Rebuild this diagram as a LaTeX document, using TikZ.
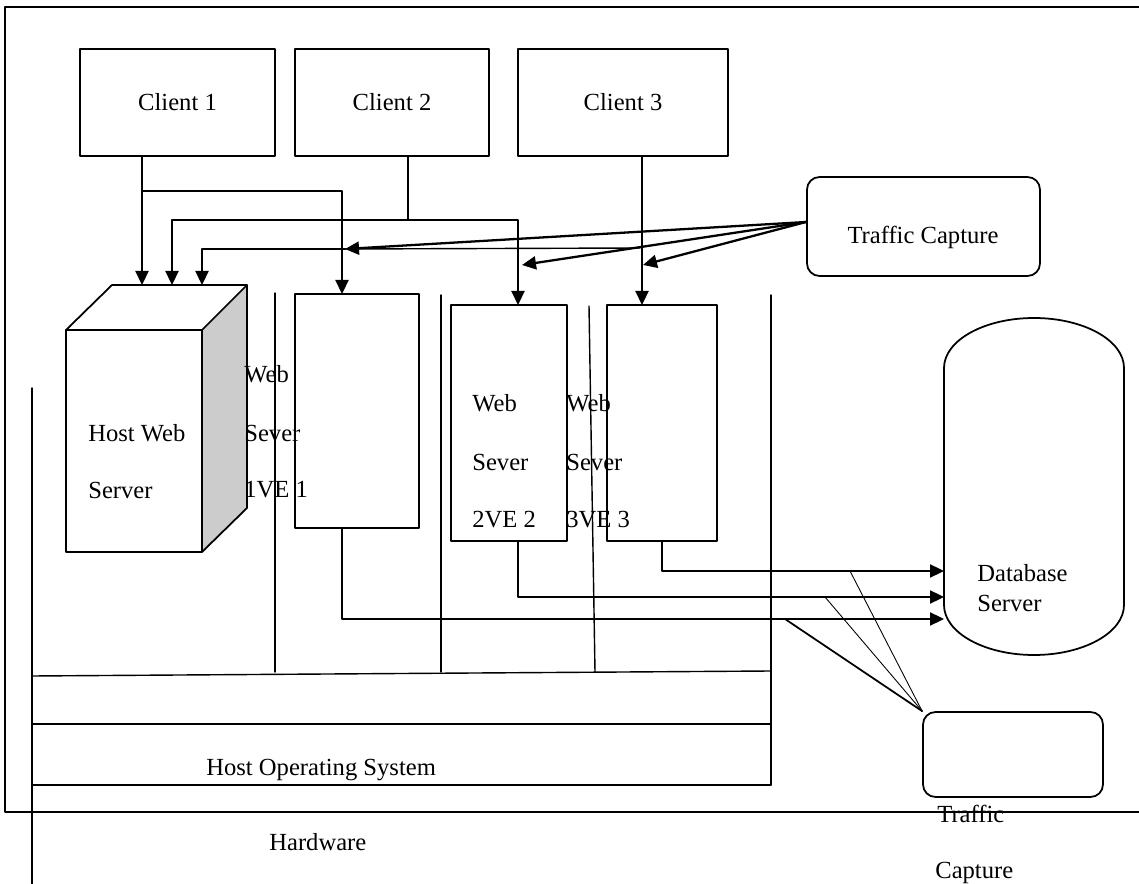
\documentclass[tikz,border=0pt]{standalone}
\usepackage{fontspec}
\setmainfont{Liberation Serif}
\usetikzlibrary{arrows.meta}

\tikzset{
  box/.style={draw, line width=1pt, inner sep=0pt},
  tcbox/.style={box, rounded corners=0.25cm},
  lbl/.style={anchor=base west, inner sep=0pt},
  sep/.style={line width=0.8pt},
  flow/.style={->, line width=1.3pt},
}

\begin{document}
\begin{tikzpicture}[line cap=round,line join=round,>={Triangle[length=0.28cm,width=0.26cm]},x=0.02cm,y=-0.02cm,font=\fontsize{14}{17}\selectfont]
		\useasboundingbox (0,0) rectangle (1139,884);
		\draw[line width=1pt] (1139,7) -- (5,7) -- (5,812) -- (1139,812);
		
		% clients
		\node[box, minimum width=3.9cm, minimum height=2.14cm] (c1) at (177.5,102.5) {Client 1};
		\node[box, minimum width=3.88cm, minimum height=2.14cm] (c2) at (392,102.5) {Client 2};
		\node[box, minimum width=4.2cm, minimum height=2.14cm] (c3) at (623,102.5) {Client 3};
		
		% host web server
		\fill[gray!40] (202,330) -- (247,285) -- (247,508) -- (202,552) -- cycle;
		\draw[line width=1pt] (66,330) rectangle (202,552);
		\draw[line width=1pt] (66,330) -- (112,285) -- (247,285) -- (247,508) -- (202,552);
		\draw[line width=1pt] (202,330) -- (247,285);
		\node[lbl] (hw1) at (88,442) {Host Web};
		\node[lbl] (hw2) at (88,499) {Server};
		
		% virtual environments
		\node[box, minimum width=2.48cm, minimum height=4.68cm] (ve1) at (357,411) {};
		\node[box, minimum width=2.32cm, minimum height=4.72cm] (ve2) at (509,423) {};
		\node[box, minimum width=2.2cm, minimum height=4.72cm] (ve3) at (662,423) {};
		\node[lbl] (ve1a) at (244,383) {Web};
		\node[lbl] (ve1b) at (244,442) {Sever};
		\node[lbl] (ve1c) at (244,498) {1VE 1};
		\node[lbl] (ve2a) at (472,412) {Web};
		\node[lbl] (ve2b) at (472,471) {Sever};
		\node[lbl] (ve2c) at (472,528) {2VE 2};
		\node[lbl] (ve3a) at (566,412) {Web};
		\node[lbl] (ve3b) at (566,471) {Sever};
		\node[lbl] (ve3c) at (566,528) {3VE 3};
		
		% layers
		\draw[sep] (275,293) -- (275,672);
		\draw[sep] (441,295) -- (441,672);
		\draw[sep] (589,306) -- (595,672);
		\draw[sep] (771,295) -- (771,785);
		\draw[sep] (32,388) -- (32,884);
		\draw[sep] (32,676) -- (771,671);
		\draw[sep] (32,724) -- (771,724);
		\draw[sep] (32,785) -- (771,785);
		\node[lbl] (os) at (206,775) {Host Operating System};
		\node[lbl] (hwr) at (269,850) {Hardware};
		
		% traffic capture
		\node[tcbox, minimum width=4.66cm, minimum height=1.98cm] (tc1) at (923.5,226.5) {};
		\node (tc1l) at (923,237) {Traffic Capture};
		\node[tcbox, minimum width=3.6cm, minimum height=1.7cm] (tc2) at (1013,754.5) {};
		\node[lbl] (tc2a) at (937,822) {Traffic};
		\node[lbl] (tc2b) at (935,878) {Capture};
		
		% database
		\draw[line width=1pt] (944,605) -- (944,368) .. controls (944,340.4) and (984.3,318) .. (1034,318)
			.. controls (1083.7,318) and (1124,340.4) .. (1124,368) -- (1124,605)
			.. controls (1124,632.6) and (1083.7,655) .. (1034,655)
			.. controls (984.3,655) and (944,632.6) .. (944,605);
		\node[lbl] (db1) at (977,582) {Database};
		\node[lbl] (db2) at (977,612) {Server};
		
		\coordinate (h1) at (142,285);
		\coordinate (h2) at (172,285);
		\coordinate (h3) at (202,285);
		\coordinate (v1) at (342,294);
		\coordinate (v2) at (518,305);
		\coordinate (v3) at (642,305);
		\coordinate (j1) at (142,191);
		\coordinate (j2) at (408,220);
		\coordinate (src) at (806,222);
		\coordinate (t1) at (345,249);
		\coordinate (t2) at (522,265);
		\coordinate (t3) at (643,265);
		\coordinate (t4) at (640,248);
		\coordinate (d1) at (944,571);
		\coordinate (d2) at (944,597);
		\coordinate (d3) at (944,619);
		\coordinate (s1) at (850,571);
		\coordinate (s2) at (825,597);
		\coordinate (s3) at (785,619);
		
		\draw[flow] (c1.south -| h1) -- (h1);
		\draw[flow] (j1) -| (v1);
		\draw[sep] (c2.south -| j2) -- (j2);
		\draw[flow] (j2) -| (h2);
		\draw[flow] (j2) -| (v2);
		\draw[flow] (c3.south -| v3) -- (v3);
		\draw[flow] (src) -- (t1);
		\draw[flow] (src) -- (t2);
		\draw[flow] (src) -- (t3);
		\draw[flow] (t1) -| (h3);
		\draw[sep] (t1) -- (t4);
		\draw[flow] (ve3.south) |- (d1);
		\draw[flow] (ve2.south -| v2) |- (d2);
		\draw[flow] (ve1.south -| v1) |- (d3);
		\draw[line width=0.5pt] (tc2.north west) -- (s1);
		\draw[line width=0.5pt] (tc2.north west) -- (s2);
		\draw[line width=1pt] (tc2.north west) -- (s3);
	\end{tikzpicture}
\end{document}
